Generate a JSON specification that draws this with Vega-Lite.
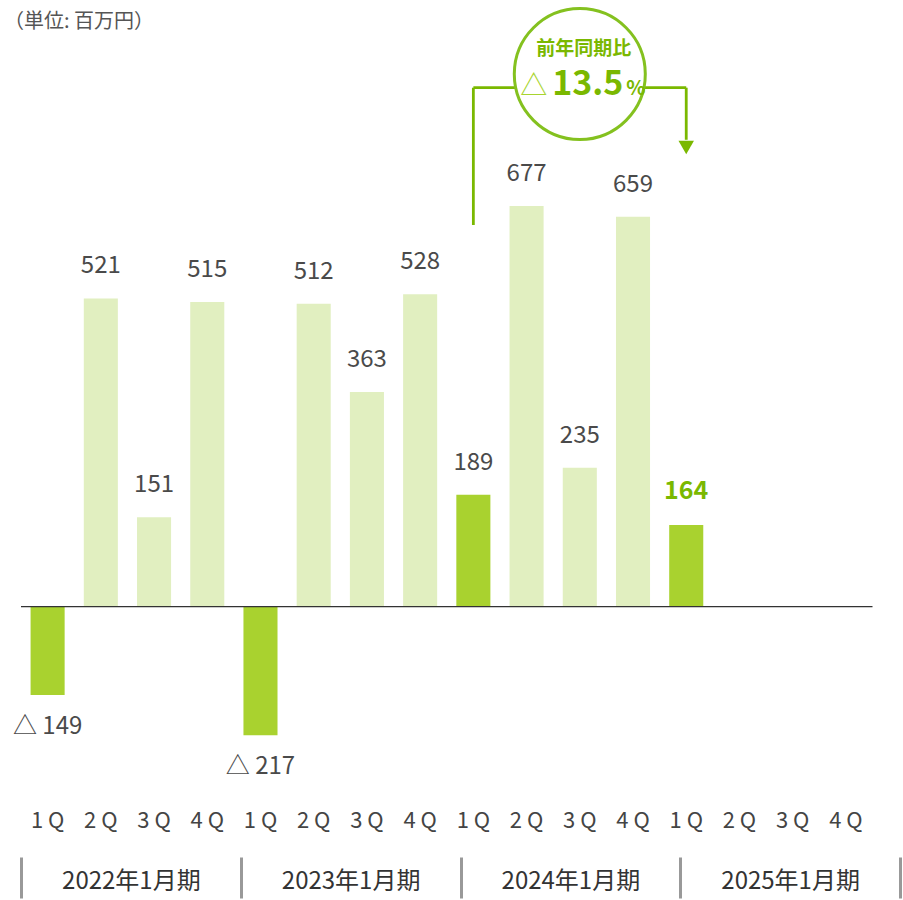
{
  "$schema": "https://vega.github.io/schema/vega-lite/v6.json",
  "width": 851.5,
  "height": 793,
  "autosize": {"type": "none"},
  "padding": {"left": 21, "top": 9, "right": 30.5, "bottom": 98},
  "background": "white",
  "config": {"font": "Noto Sans CJK JP", "view": {"stroke": null}},
  "title": {"text": "（単位: 百万円）", "anchor": "start", "frame": "group", "offset": -11, "baseline": "middle", "dx": -17, "dy": 28, "fontSize": 20, "fontWeight": "normal", "color": "#555555"},
  "datasets": {
    "quarters": [
      {"q": "2022-1", "v": -149, "label": "△ 149", "kind": "1Q", "hl": false},
      {"q": "2022-2", "v": 521, "label": "521", "kind": "other", "hl": false},
      {"q": "2022-3", "v": 151, "label": "151", "kind": "other", "hl": false},
      {"q": "2022-4", "v": 515, "label": "515", "kind": "other", "hl": false},
      {"q": "2023-1", "v": -217, "label": "△ 217", "kind": "1Q", "hl": false},
      {"q": "2023-2", "v": 512, "label": "512", "kind": "other", "hl": false},
      {"q": "2023-3", "v": 363, "label": "363", "kind": "other", "hl": false},
      {"q": "2023-4", "v": 528, "label": "528", "kind": "other", "hl": false},
      {"q": "2024-1", "v": 189, "label": "189", "kind": "1Q", "hl": false},
      {"q": "2024-2", "v": 677, "label": "677", "kind": "other", "hl": false},
      {"q": "2024-3", "v": 235, "label": "235", "kind": "other", "hl": false},
      {"q": "2024-4", "v": 659, "label": "659", "kind": "other", "hl": false},
      {"q": "2025-1", "v": 138, "label": "164", "kind": "1Q", "hl": true}
    ],
    "years": [
      {"fy": "2022年1月期"},
      {"fy": "2023年1月期"},
      {"fy": "2024年1月期"},
      {"fy": "2025年1月期"}
    ],
    "one": [{"k": 1}]
  },
  "layer": [
    {
      "layer": [
        {
          "data": {"name": "quarters"},
          "mark": {"type": "bar"},
          "encoding": {
            "x": {
              "field": "q",
              "type": "ordinal",
              "scale": {
                "domain": ["2022-1", "2022-2", "2022-3", "2022-4", "2023-1", "2023-2", "2023-3", "2023-4", "2024-1", "2024-2", "2024-3", "2024-4", "2025-1", "2025-2", "2025-3", "2025-4"],
                "paddingInner": 0.36,
                "paddingOuter": 0.18
              },
              "axis": {
                "title": null,
                "domain": false,
                "ticks": false,
                "labelAngle": 0,
                "labelExpr": "slice(datum.value, 5) + ' Q'",
                "labelFontSize": 22,
                "labelColor": "#444444",
                "labelPadding": 8,
                "labelBaseline": "top"
              }
            },
            "y": {
              "field": "v",
              "type": "quantitative",
              "scale": {"domain": [-330, 1010], "nice": false, "zero": false},
              "axis": null
            },
            "color": {
              "field": "kind",
              "type": "nominal",
              "scale": {"domain": ["1Q", "other"], "range": ["#a9d22f", "#e1efc0"]},
              "legend": null
            }
          }
        },
        {
          "data": {"name": "quarters"},
          "transform": [{"filter": "datum.v > 0 && !datum.hl"}],
          "mark": {"type": "text", "baseline": "middle", "dy": -32, "fontSize": 24, "color": "#4a4a4a"},
          "encoding": {"x": {"field": "q", "type": "ordinal"}, "y": {"field": "v", "type": "quantitative"}, "text": {"field": "label"}}
        },
        {
          "data": {"name": "quarters"},
          "transform": [{"filter": "datum.v < 0"}],
          "mark": {"type": "text", "baseline": "middle", "dy": 32, "fontSize": 24, "color": "#4a4a4a"},
          "encoding": {"x": {"field": "q", "type": "ordinal"}, "y": {"field": "v", "type": "quantitative"}, "text": {"field": "label"}}
        },
        {
          "data": {"name": "quarters"},
          "transform": [{"filter": "datum.hl"}],
          "mark": {"type": "text", "baseline": "middle", "dy": -34, "fontSize": 25, "fontWeight": "bold", "color": "#7ab800"},
          "encoding": {"x": {"field": "q", "type": "ordinal"}, "y": {"field": "v", "type": "quantitative"}, "text": {"field": "label"}}
        },
        {
          "data": {"name": "one"},
          "mark": {"type": "rule", "color": "#333333", "strokeWidth": 1.2},
          "encoding": {"y": {"datum": 0}}
        },
        {
          "data": {"name": "one"},
          "mark": {"type": "rule", "color": "#7ab800", "strokeWidth": 2.8},
          "encoding": {"x": {"datum": "2024-1"}, "y": {"datum": 645}, "y2": {"datum": 877}}
        },
        {
          "data": {"name": "one"},
          "mark": {"type": "rule", "color": "#7ab800", "strokeWidth": 2.8},
          "encoding": {"x": {"datum": "2024-1"}, "x2": {"datum": "2025-1"}, "y": {"datum": 877}}
        },
        {
          "data": {"name": "one"},
          "mark": {"type": "rule", "color": "#7ab800", "strokeWidth": 2.8},
          "encoding": {"x": {"datum": "2025-1"}, "y": {"datum": 877}, "y2": {"datum": 789}}
        },
        {
          "data": {"name": "one"},
          "mark": {"type": "point", "shape": "triangle-down", "filled": true, "color": "#7ab800", "opacity": 1, "size": 240},
          "encoding": {"x": {"datum": "2025-1"}, "y": {"datum": 776}}
        },
        {
          "data": {"name": "one"},
          "mark": {"type": "point", "shape": "circle", "filled": true, "fill": "#ffffff", "fillOpacity": 1, "stroke": "#84c11f", "strokeWidth": 3, "strokeOpacity": 1, "opacity": 1, "size": 17161},
          "encoding": {"x": {"datum": "2024-3"}, "y": {"datum": 900}}
        },
        {
          "data": {"name": "one"},
          "mark": {"type": "text", "text": "前年同期比", "baseline": "middle", "dx": 4, "fontSize": 19, "fontWeight": "bold", "color": "#7ab800"},
          "encoding": {"x": {"datum": "2024-3"}, "y": {"datum": 943}}
        },
        {
          "data": {"name": "one"},
          "mark": {"type": "text", "text": "13.5", "baseline": "middle", "dx": 8, "fontSize": 34, "fontWeight": "bold", "color": "#7ab800"},
          "encoding": {"x": {"datum": "2024-3"}, "y": {"datum": 881}}
        },
        {
          "data": {"name": "one"},
          "mark": {"type": "text", "text": "△", "baseline": "middle", "dx": -46, "fontSize": 27, "color": "#a8d42f"},
          "encoding": {"x": {"datum": "2024-3"}, "y": {"datum": 879}}
        },
        {
          "data": {"name": "one"},
          "mark": {"type": "text", "text": "%", "baseline": "middle", "dx": 56, "fontSize": 20, "fontWeight": "bold", "color": "#7ab800"},
          "encoding": {"x": {"datum": "2024-3"}, "y": {"datum": 875}}
        }
      ]
    },
    {
      "data": {"name": "years"},
      "mark": {"type": "point", "opacity": 0},
      "encoding": {
        "x": {
          "field": "fy",
          "type": "nominal",
          "scale": {"type": "band", "range": [0, 879], "paddingInner": 0, "paddingOuter": 0},
          "axis": {
            "title": null,
            "orient": "bottom",
            "offset": 55,
            "domain": false,
            "tickBand": "extent",
            "tickSize": 41,
            "tickWidth": 3,
            "tickColor": "#999999",
            "labelAngle": 0,
            "labelFontSize": 24,
            "labelColor": "#333333",
            "labelBaseline": "middle",
            "labelPadding": -17
          }
        }
      }
    }
  ],
  "resolve": {"scale": {"x": "independent"}, "axis": {"x": "independent"}}
}
